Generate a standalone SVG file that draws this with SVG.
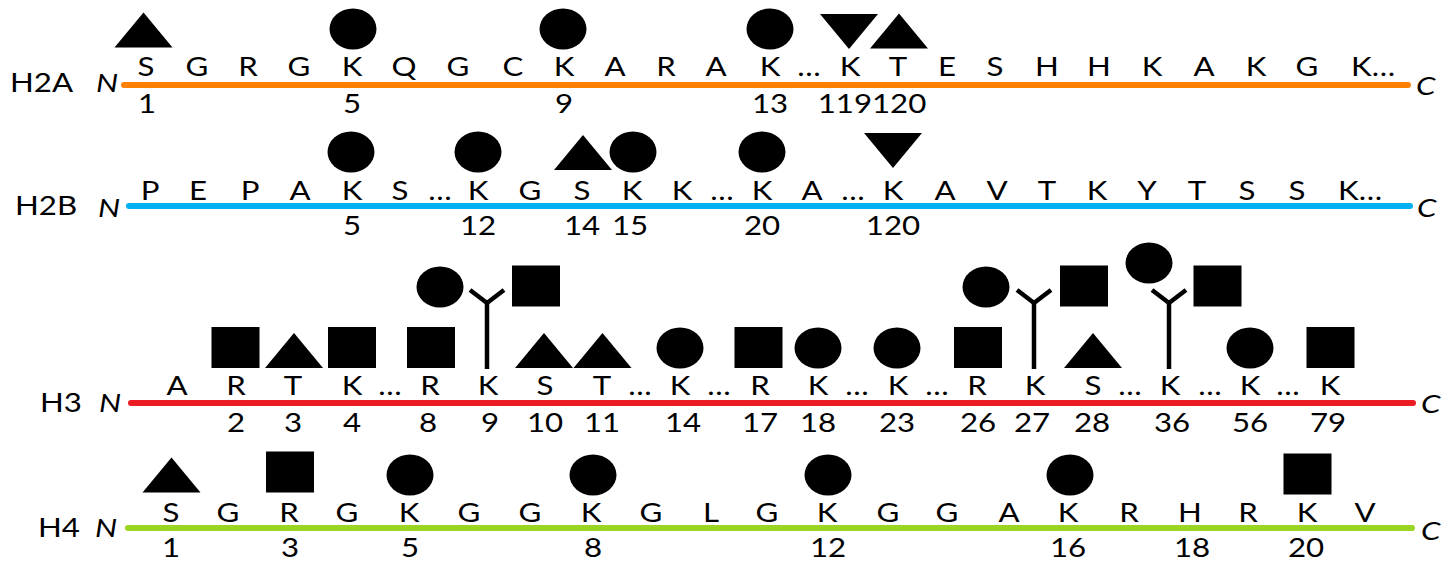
<svg xmlns="http://www.w3.org/2000/svg" xmlns:xlink="http://www.w3.org/1999/xlink" width="1452" height="563" viewBox="0 0 1452 563">
  <style>
    text { font-family: Lato, "Open Sans", "Liberation Sans", sans-serif; font-size: 26px; fill: #000; text-anchor: middle; }
    .lbl { text-anchor: start; }
    .st { text-anchor: start; }
    .term { font-style: italic; text-anchor: start; }
    .chain { stroke-width: 6; stroke-linecap: round; fill: none; }
    .mark { fill: #000; }
    .fork { stroke: #000; stroke-width: 4.5; fill: none; stroke-linejoin: miter; }
  </style>
  <defs>
    <!-- modification glyphs, drawn about their centre -->
    <ellipse id="circ" class="mark" cx="0" cy="0" rx="23.5" ry="20.5"/>
    <rect id="sq" class="mark" x="-24" y="-20.5" width="48" height="41"/>
    <polygon id="tri" class="mark" points="0,-17.5 29,17.5 -29,17.5"/>
    <polygon id="tridn" class="mark" points="-29,-17.5 29,-17.5 0,17.5"/>
    <!-- forked marker: junction at origin, stem runs down 66px -->
    <path id="fork" class="fork" d="M0,66 V0 M-17,-13 L0,0 L17,-13"/>
  </defs>

  <!-- ===================== H2A ===================== -->
  <g id="h2a">
    <line class="chain" x1="124" y1="85" x2="1408" y2="85" stroke="#FF8000"/>
    <text class="lbl" transform="translate(10,92) scale(1.2,1)">H2A</text>
    <text class="term" transform="translate(96,92) scale(1.2,1)">N</text>
    <text class="term" transform="translate(1416,95) scale(1.2,1)">C</text>
    <g id="h2a-res">
      <text transform="translate(146,76) scale(1.2,1)">S</text>
      <text transform="translate(197,76) scale(1.2,1)">G</text>
      <text transform="translate(248,76) scale(1.2,1)">R</text>
      <text transform="translate(299,76) scale(1.2,1)">G</text>
      <text transform="translate(352,76) scale(1.2,1)">K</text>
      <text transform="translate(404,76) scale(1.2,1)">Q</text>
      <text transform="translate(458,76) scale(1.2,1)">G</text>
      <text transform="translate(513,76) scale(1.2,1)">C</text>
      <text transform="translate(564,76) scale(1.2,1)">K</text>
      <text transform="translate(615,76) scale(1.2,1)">A</text>
      <text transform="translate(666,76) scale(1.2,1)">R</text>
      <text transform="translate(716,76) scale(1.2,1)">A</text>
      <text transform="translate(770,76) scale(1.2,1)">K</text>
      <text transform="translate(809,76) scale(1.2,1)">…</text>
      <text transform="translate(850,76) scale(1.2,1)">K</text>
      <text transform="translate(898,76) scale(1.2,1)">T</text>
      <text transform="translate(947,76) scale(1.2,1)">E</text>
      <text transform="translate(995,76) scale(1.2,1)">S</text>
      <text transform="translate(1047,76) scale(1.2,1)">H</text>
      <text transform="translate(1099,76) scale(1.2,1)">H</text>
      <text transform="translate(1152,76) scale(1.2,1)">K</text>
      <text transform="translate(1204,76) scale(1.2,1)">A</text>
      <text transform="translate(1256,76) scale(1.2,1)">K</text>
      <text transform="translate(1307,76) scale(1.2,1)">G</text>
      <text class="st" transform="translate(1351,76) scale(1.2,1)">K…</text>
    </g>
    <g id="h2a-num">
      <text transform="translate(147,113) scale(1.2,1)">1</text>
      <text transform="translate(352,113) scale(1.2,1)">5</text>
      <text transform="translate(564,113) scale(1.2,1)">9</text>
      <text transform="translate(770,113) scale(1.2,1)">13</text>
      <text transform="translate(872,113) scale(1.2,1)">119120</text>
    </g>
    <g id="h2a-mod">
      <use xlink:href="#tri" x="143.5" y="30"/>
      <use xlink:href="#circ" x="353" y="29"/>
      <use xlink:href="#circ" x="563" y="29"/>
      <use xlink:href="#circ" x="770" y="29"/>
      <use xlink:href="#tridn" x="849" y="31.5"/>
      <use xlink:href="#tri" x="899" y="31"/>
    </g>
  </g>

  <!-- ===================== H2B ===================== -->
  <g id="h2b">
    <line class="chain" x1="129" y1="206" x2="1410" y2="206" stroke="#00B0F0"/>
    <text class="lbl" transform="translate(15,215) scale(1.2,1)">H2B</text>
    <text class="term" transform="translate(98,217) scale(1.2,1)">N</text>
    <text class="term" transform="translate(1417,217) scale(1.2,1)">C</text>
    <g id="h2b-res">
      <text transform="translate(150,200) scale(1.2,1)">P</text>
      <text transform="translate(198,200) scale(1.2,1)">E</text>
      <text transform="translate(250,200) scale(1.2,1)">P</text>
      <text transform="translate(300,200) scale(1.2,1)">A</text>
      <text transform="translate(352,200) scale(1.2,1)">K</text>
      <text transform="translate(400,200) scale(1.2,1)">S</text>
      <text transform="translate(440,200) scale(1.2,1)">…</text>
      <text transform="translate(478,200) scale(1.2,1)">K</text>
      <text transform="translate(530,200) scale(1.2,1)">G</text>
      <text transform="translate(582,200) scale(1.2,1)">S</text>
      <text transform="translate(632,200) scale(1.2,1)">K</text>
      <text transform="translate(682,200) scale(1.2,1)">K</text>
      <text transform="translate(722,200) scale(1.2,1)">…</text>
      <text transform="translate(762,200) scale(1.2,1)">K</text>
      <text transform="translate(812,200) scale(1.2,1)">A</text>
      <text transform="translate(853,200) scale(1.2,1)">…</text>
      <text transform="translate(893,200) scale(1.2,1)">K</text>
      <text transform="translate(945,200) scale(1.2,1)">A</text>
      <text transform="translate(997,200) scale(1.2,1)">V</text>
      <text transform="translate(1047,200) scale(1.2,1)">T</text>
      <text transform="translate(1097,200) scale(1.2,1)">K</text>
      <text transform="translate(1147,200) scale(1.2,1)">Y</text>
      <text transform="translate(1197,200) scale(1.2,1)">T</text>
      <text transform="translate(1247,200) scale(1.2,1)">S</text>
      <text transform="translate(1297,200) scale(1.2,1)">S</text>
      <text class="st" transform="translate(1338,200) scale(1.2,1)">K…</text>
    </g>
    <g id="h2b-num">
      <text transform="translate(352,235) scale(1.2,1)">5</text>
      <text transform="translate(478,235) scale(1.2,1)">12</text>
      <text transform="translate(582,235) scale(1.2,1)">14</text>
      <text transform="translate(630,235) scale(1.2,1)">15</text>
      <text transform="translate(762,235) scale(1.2,1)">20</text>
      <text transform="translate(893,235) scale(1.2,1)">120</text>
    </g>
    <g id="h2b-mod">
      <use xlink:href="#circ" x="351" y="152"/>
      <use xlink:href="#circ" x="478" y="152"/>
      <use xlink:href="#tri" x="583" y="152.5"/>
      <use xlink:href="#circ" x="633" y="152"/>
      <use xlink:href="#circ" x="762" y="152"/>
      <use xlink:href="#tridn" x="893" y="150.5"/>
    </g>
  </g>

  <!-- ===================== H3 ===================== -->
  <g id="h3">
    <line class="chain" x1="131" y1="403" x2="1413" y2="403" stroke="#EC1C24"/>
    <text class="lbl" transform="translate(40,412) scale(1.2,1)">H3</text>
    <text class="term" transform="translate(99,412) scale(1.2,1)">N</text>
    <text class="term" transform="translate(1421,413) scale(1.2,1)">C</text>
    <g id="h3-res">
      <text transform="translate(177,395) scale(1.2,1)">A</text>
      <text transform="translate(236,395) scale(1.2,1)">R</text>
      <text transform="translate(293,395) scale(1.2,1)">T</text>
      <text transform="translate(352,395) scale(1.2,1)">K</text>
      <text transform="translate(390,395) scale(1.2,1)">…</text>
      <text transform="translate(430,395) scale(1.2,1)">R</text>
      <text transform="translate(488,395) scale(1.2,1)">K</text>
      <text transform="translate(545,395) scale(1.2,1)">S</text>
      <text transform="translate(602,395) scale(1.2,1)">T</text>
      <text transform="translate(640,395) scale(1.2,1)">…</text>
      <text transform="translate(680,395) scale(1.2,1)">K</text>
      <text transform="translate(719,395) scale(1.2,1)">…</text>
      <text transform="translate(760,395) scale(1.2,1)">R</text>
      <text transform="translate(818,395) scale(1.2,1)">K</text>
      <text transform="translate(857,395) scale(1.2,1)">…</text>
      <text transform="translate(898,395) scale(1.2,1)">K</text>
      <text transform="translate(937,395) scale(1.2,1)">…</text>
      <text transform="translate(977,395) scale(1.2,1)">R</text>
      <text transform="translate(1035,395) scale(1.2,1)">K</text>
      <text transform="translate(1093,395) scale(1.2,1)">S</text>
      <text transform="translate(1130,395) scale(1.2,1)">…</text>
      <text transform="translate(1170,395) scale(1.2,1)">K</text>
      <text transform="translate(1210,395) scale(1.2,1)">…</text>
      <text transform="translate(1250,395) scale(1.2,1)">K</text>
      <text transform="translate(1288,395) scale(1.2,1)">…</text>
      <text transform="translate(1330,395) scale(1.2,1)">K</text>
    </g>
    <g id="h3-num">
      <text transform="translate(236,432) scale(1.2,1)">2</text>
      <text transform="translate(293,432) scale(1.2,1)">3</text>
      <text transform="translate(352,432) scale(1.2,1)">4</text>
      <text transform="translate(428,432) scale(1.2,1)">8</text>
      <text transform="translate(490,432) scale(1.2,1)">9</text>
      <text transform="translate(545,432) scale(1.2,1)">10</text>
      <text transform="translate(602,432) scale(1.2,1)">11</text>
      <text transform="translate(683,432) scale(1.2,1)">14</text>
      <text transform="translate(760,432) scale(1.2,1)">17</text>
      <text transform="translate(818,432) scale(1.2,1)">18</text>
      <text transform="translate(897,432) scale(1.2,1)">23</text>
      <text transform="translate(978,432) scale(1.2,1)">26</text>
      <text transform="translate(1032,432) scale(1.2,1)">27</text>
      <text transform="translate(1092,432) scale(1.2,1)">28</text>
      <text transform="translate(1172,432) scale(1.2,1)">36</text>
      <text transform="translate(1250,432) scale(1.2,1)">56</text>
      <text transform="translate(1328,432) scale(1.2,1)">79</text>
    </g>
    <g id="h3-mod">
      <use xlink:href="#sq" x="235.5" y="347.5"/>
      <use xlink:href="#tri" x="294" y="350.5"/>
      <use xlink:href="#sq" x="352" y="347.5"/>
      <use xlink:href="#sq" x="431" y="347.5"/>
      <use xlink:href="#circ" x="440" y="287"/>
      <use xlink:href="#fork" x="487" y="303"/>
      <use xlink:href="#sq" x="536" y="286"/>
      <use xlink:href="#tri" x="544" y="350.5"/>
      <use xlink:href="#tri" x="602.5" y="350.5"/>
      <use xlink:href="#circ" x="680" y="348"/>
      <use xlink:href="#sq" x="758.5" y="347.5"/>
      <use xlink:href="#circ" x="818" y="348"/>
      <use xlink:href="#circ" x="897" y="348"/>
      <use xlink:href="#sq" x="978" y="347.5"/>
      <use xlink:href="#circ" x="986" y="287"/>
      <use xlink:href="#fork" x="1034" y="303"/>
      <use xlink:href="#sq" x="1084" y="286"/>
      <use xlink:href="#tri" x="1093" y="350.5"/>
      <use xlink:href="#circ" x="1149" y="263"/>
      <use xlink:href="#fork" x="1169" y="303"/>
      <use xlink:href="#sq" x="1217.5" y="286"/>
      <use xlink:href="#circ" x="1250" y="348"/>
      <use xlink:href="#sq" x="1330.5" y="347.5"/>
    </g>
  </g>

  <!-- ===================== H4 ===================== -->
  <g id="h4">
    <line class="chain" x1="128" y1="528" x2="1412" y2="528" stroke="#9BD523"/>
    <text class="lbl" transform="translate(38,537) scale(1.2,1)">H4</text>
    <text class="term" transform="translate(95,537) scale(1.2,1)">N</text>
    <text class="term" transform="translate(1421,540) scale(1.2,1)">C</text>
    <g id="h4-res">
      <text transform="translate(171,522) scale(1.2,1)">S</text>
      <text transform="translate(228,522) scale(1.2,1)">G</text>
      <text transform="translate(289,522) scale(1.2,1)">R</text>
      <text transform="translate(347,522) scale(1.2,1)">G</text>
      <text transform="translate(409,522) scale(1.2,1)">K</text>
      <text transform="translate(469,522) scale(1.2,1)">G</text>
      <text transform="translate(530,522) scale(1.2,1)">G</text>
      <text transform="translate(591,522) scale(1.2,1)">K</text>
      <text transform="translate(651,522) scale(1.2,1)">G</text>
      <text transform="translate(711,522) scale(1.2,1)">L</text>
      <text transform="translate(767,522) scale(1.2,1)">G</text>
      <text transform="translate(827,522) scale(1.2,1)">K</text>
      <text transform="translate(888,522) scale(1.2,1)">G</text>
      <text transform="translate(947,522) scale(1.2,1)">G</text>
      <text transform="translate(1009,522) scale(1.2,1)">A</text>
      <text transform="translate(1068,522) scale(1.2,1)">K</text>
      <text transform="translate(1129,522) scale(1.2,1)">R</text>
      <text transform="translate(1190,522) scale(1.2,1)">H</text>
      <text transform="translate(1248,522) scale(1.2,1)">R</text>
      <text transform="translate(1307,522) scale(1.2,1)">K</text>
      <text transform="translate(1365,522) scale(1.2,1)">V</text>
    </g>
    <g id="h4-num">
      <text transform="translate(171,557) scale(1.2,1)">1</text>
      <text transform="translate(290,557) scale(1.2,1)">3</text>
      <text transform="translate(410,557) scale(1.2,1)">5</text>
      <text transform="translate(593,557) scale(1.2,1)">8</text>
      <text transform="translate(828,557) scale(1.2,1)">12</text>
      <text transform="translate(1068,557) scale(1.2,1)">16</text>
      <text transform="translate(1192,557) scale(1.2,1)">18</text>
      <text transform="translate(1306,557) scale(1.2,1)">20</text>
    </g>
    <g id="h4-mod">
      <use xlink:href="#tri" x="171.5" y="475"/>
      <use xlink:href="#sq" x="290" y="472"/>
      <use xlink:href="#circ" x="410" y="475"/>
      <use xlink:href="#circ" x="593" y="475"/>
      <use xlink:href="#circ" x="828" y="475"/>
      <use xlink:href="#circ" x="1070" y="475"/>
      <use xlink:href="#sq" x="1307.5" y="474"/>
    </g>
  </g>
</svg>
